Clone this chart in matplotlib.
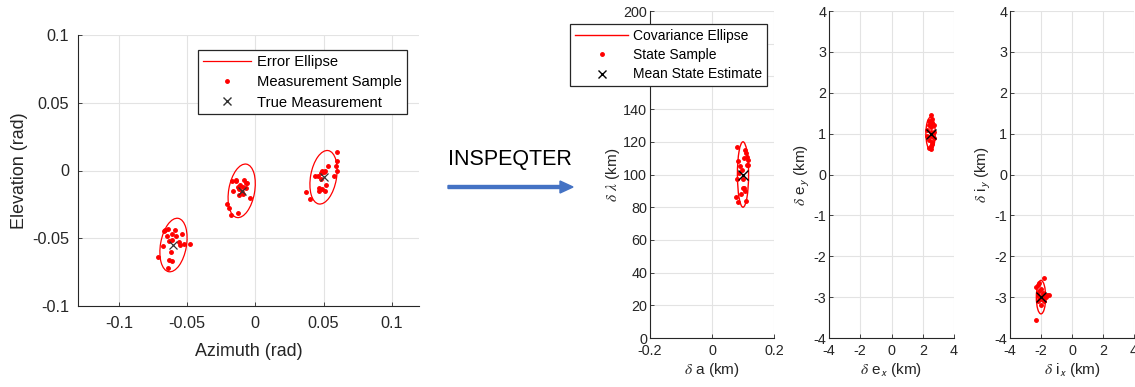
import numpy as np
import matplotlib
matplotlib.use("Agg")
import matplotlib.pyplot as plt
from matplotlib.patches import Ellipse, FancyArrow
from matplotlib.lines import Line2D

plt.rcParams["font.family"] = ["Liberation Sans", "DejaVu Sans"]
plt.rcParams["mathtext.fontset"] = "stix"
plt.rcParams["axes.unicode_minus"] = False

# ---- left panel: measurements (azimuth, elevation) in rad
true_az = [-0.06, -0.01, 0.05]
true_el = [-0.055, -0.015, -0.005]

az1 = [-0.071, -0.068, -0.067, -0.066, -0.064, -0.065, -0.063, -0.062, -0.063, -0.061,
       -0.061, -0.059, -0.058, -0.056, -0.055, -0.054, -0.052, -0.048, -0.061, -0.064]
el1 = [-0.064, -0.056, -0.045, -0.044, -0.043, -0.048, -0.052, -0.060, -0.066, -0.067,
       -0.047, -0.044, -0.048, -0.053, -0.055, -0.047, -0.054, -0.054, -0.051, -0.072]
az2 = [-0.021, -0.019, -0.018, -0.017, -0.016, -0.014, -0.013, -0.013, -0.012, -0.011,
       -0.009, -0.008, -0.007, -0.007, -0.006, -0.004, -0.012, -0.014, -0.009, -0.010]
el2 = [-0.025, -0.028, -0.033, -0.008, -0.015, -0.008, -0.012, -0.031, -0.014, -0.011,
       -0.017, -0.007, -0.009, -0.013, -0.009, -0.020, -0.018, -0.007, -0.012, -0.016]
az3 = [0.037, 0.040, 0.044, 0.046, 0.047, 0.047, 0.048, 0.049, 0.050, 0.051,
       0.051, 0.052, 0.053, 0.058, 0.059, 0.060, 0.060, 0.060, 0.048, 0.049]
el3 = [-0.016, -0.021, -0.004, -0.004, -0.013, -0.015, -0.002, 0.000, -0.001, 0.000,
       -0.015, -0.011, 0.003, -0.004, 0.003, 0.014, 0.000, 0.007, -0.006, -0.014]

# error ellipse size (full width / height, rad) and tilt (deg)
err_w, err_h, err_ang = 0.019, 0.040, -10

# ---- right panels: relative orbit state (km)
da = [0.080, 0.084, 0.090, 0.080, 0.076, 0.085, 0.088, 0.096, 0.103, 0.106, 0.109,
      0.112, 0.112, 0.101, 0.099, 0.103, 0.106, 0.109, 0.115, 0.117, 0.093]
dlam = [117, 108, 105, 97, 86, 83, 101, 103, 110, 115, 113,
        111, 106, 97, 92, 92, 90, 84, 109, 106, 88]
dex = [2.3, 2.4, 2.5, 2.6, 2.7, 2.5, 2.4, 2.6, 2.7, 2.3, 2.5, 2.6, 2.4, 2.5, 2.6, 2.7,
       2.5, 2.4, 2.6, 2.5]
dey = [1.1, 1.3, 1.45, 1.35, 1.2, 0.7, 0.65, 0.75, 0.9, 0.95, 1.05, 1.0, 0.85, 0.62,
       1.25, 1.05, 1.15, 1.2, 0.8, 0.95]
dix = [-2.3, -2.2, -2.1, -2.0, -1.9, -1.8, -1.6, -1.5, -2.2, -2.1, -1.9, -1.8, -2.0,
       -2.3, -2.1, -1.7, -1.8, -2.0, -2.2, -1.9]
diy = [-3.55, -2.7, -2.65, -2.8, -2.9, -2.52, -2.95, -2.95, -2.95, -2.85, -3.05, -3.1,
       -3.2, -2.75, -3.0, -3.0, -2.95, -3.05, -3.1, -2.95]
mean_a, mean_lam = 0.1, 100
mean_ex, mean_ey = 2.5, 1.0
mean_ix, mean_iy = -2.0, -3.0
cov_a = (0.036, 40)
cov_e = (0.6, 0.8)
cov_i = (0.6, 0.82)

# 160 / 180 sit under the legend in the original
lam_ticks = list(range(0, 201, 20))
lam_labels = [str(v) if v not in (160, 180) else "" for v in lam_ticks]

dark = "#262626"
gridc = "#e3e3e3"
W, H = 1135, 387
fig = plt.figure(figsize=(W / 100, H / 100), dpi=100)


def px_axes(x0, y0, x1, y1):
    return fig.add_axes([x0 / W, 1 - y1 / H, (x1 - x0) / W, (y1 - y0) / H])


def style(ax, fs, xpad, ypad):
    for s in ["top", "right"]:
        ax.spines[s].set_visible(False)
    for s in ["left", "bottom"]:
        ax.spines[s].set_color(dark)
        ax.spines[s].set_linewidth(0.8)
    ax.tick_params(direction="in", length=3, width=0.6, colors=dark, labelsize=fs)
    ax.tick_params(axis="x", pad=xpad)
    ax.tick_params(axis="y", pad=ypad)
    ax.grid(True, color=gridc, linewidth=0.8)
    ax.set_axisbelow(True)


# left panel
ax = px_axes(78, 35, 419, 306)
style(ax, 11.7, 7.5, 6.5)
for az, el, ca, ce in [(az1, el1, true_az[0], true_el[0]),
                       (az2, el2, true_az[1], true_el[1]),
                       (az3, el3, true_az[2], true_el[2])]:
    ax.add_patch(Ellipse((ca, ce), err_w, err_h, angle=err_ang, fill=False,
                         edgecolor="red", linewidth=0.9))
    ax.plot(az, el, ".", color="red", markersize=5)
ax.plot(true_az, true_el, "x", color="#333333", markersize=6, markeredgewidth=0.9)
ax.set_xlim(-0.13, 0.12)
ax.set_ylim(-0.1, 0.1)
ax.set_xticks([-0.1, -0.05, 0, 0.05, 0.1], ["-0.1", "-0.05", "0", "0.05", "0.1"])
ax.set_yticks([-0.1, -0.05, 0, 0.05, 0.1], ["-0.1", "-0.05", "0", "0.05", "0.1"])
ax.set_xlabel("Azimuth (rad)", fontsize=12.9, color=dark, labelpad=8)
ax.set_ylabel("Elevation (rad)", fontsize=12.9, color=dark, labelpad=3)

h_left = [Line2D([], [], color="red", linewidth=0.9),
          Line2D([], [], linestyle="none", marker=".", color="red", markersize=5),
          Line2D([], [], linestyle="none", marker="x", color="#333333", markersize=6)]
leg = fig.legend(h_left, ["Error Ellipse", "Measurement Sample", "True Measurement"],
                 loc="upper right", bbox_to_anchor=(407 / W, 1 - 50 / H), fontsize=10.6,
                 fancybox=False, edgecolor=dark, framealpha=1, handlelength=3.3,
                 borderpad=0.33, labelspacing=0.43, handletextpad=0.4, borderaxespad=0)
leg.get_frame().set_linewidth(0.9)

# arrow + label
fig.text(510 / W, 1 - 159 / H, "INSPEQTER", fontsize=15.5, ha="center", va="center",
         color="black")
fig.patches.append(FancyArrow(448 / W, 1 - 187 / H, 125 / W, 0, width=3 / H,
                              head_width=12 / H, head_length=13 / W,
                              length_includes_head=True, color="#4472C4",
                              transform=fig.transFigure, figure=fig))

# right panels
fs_r = 10.4
fs_lab = 11.1
ax1 = px_axes(650, 11, 774, 338)
style(ax1, fs_r, 4.5, 2)
ax1.add_patch(Ellipse((mean_a, mean_lam), cov_a[0], cov_a[1], fill=False,
                      edgecolor="red", linewidth=1.0))
ax1.plot(da, dlam, ".", color="red", markersize=5)
ax1.plot([mean_a], [mean_lam], "x", color="black", markersize=7, markeredgewidth=1.0)
ax1.set_xlim(-0.2, 0.2)
ax1.set_ylim(0, 200)
ax1.set_xticks([-0.2, 0, 0.2], ["-0.2", "0", "0.2"])
ax1.set_yticks(lam_ticks, lam_labels)
ax1.set_xlabel(r"$\delta$ a (km)", fontsize=fs_lab, color=dark, labelpad=2)
ax1.set_ylabel(r"$\delta$ $\lambda$ (km)", fontsize=fs_lab, color=dark, labelpad=1)

ax2 = px_axes(829, 11, 954, 338)
style(ax2, fs_r, 4.5, 2)
ax2.add_patch(Ellipse((mean_ex, mean_ey), cov_e[0], cov_e[1], fill=False,
                      edgecolor="red", linewidth=1.0))
ax2.plot(dex, dey, ".", color="red", markersize=5)
ax2.plot([mean_ex], [mean_ey], "x", color="black", markersize=7, markeredgewidth=1.0)
ax2.set_xlabel(r"$\delta$ e$_\mathsf{x}$ (km)", fontsize=fs_lab, color=dark, labelpad=2)
ax2.set_ylabel(r"$\delta$ e$_\mathsf{y}$ (km)", fontsize=fs_lab, color=dark, labelpad=1)

ax3 = px_axes(1010, 11, 1134, 338)
style(ax3, fs_r, 4.5, 2)
ax3.add_patch(Ellipse((mean_ix, mean_iy), cov_i[0], cov_i[1], fill=False,
                      edgecolor="red", linewidth=1.0))
ax3.plot(dix, diy, ".", color="red", markersize=5)
ax3.plot([mean_ix], [mean_iy], "x", color="black", markersize=7, markeredgewidth=1.0)
ax3.set_xlabel(r"$\delta$ i$_\mathsf{x}$ (km)", fontsize=fs_lab, color=dark, labelpad=2)
ax3.set_ylabel(r"$\delta$ i$_\mathsf{y}$ (km)", fontsize=fs_lab, color=dark, labelpad=1)

for a in (ax2, ax3):
    a.set_xlim(-4, 4)
    a.set_ylim(-4, 4)
    a.set_xticks(range(-4, 5, 2), [str(v) for v in range(-4, 5, 2)])
    a.set_yticks(range(-4, 5), [str(v) for v in range(-4, 5)])

h_right = [Line2D([], [], color="red", linewidth=1.0),
           Line2D([], [], linestyle="none", marker=".", color="red", markersize=5),
           Line2D([], [], linestyle="none", marker="x", color="black", markersize=6)]
leg2 = fig.legend(h_right, ["Covariance Ellipse", "State Sample", "Mean State Estimate"],
                  loc="upper right", bbox_to_anchor=(767 / W, 1 - 24 / H), fontsize=10,
                  fancybox=False, edgecolor=dark, framealpha=1, handlelength=3.8,
                  borderpad=0.35, labelspacing=0.38, handletextpad=0.36, borderaxespad=0)
leg2.get_frame().set_linewidth(0.9)

fig.savefig("out.png", dpi=100, facecolor="white")
